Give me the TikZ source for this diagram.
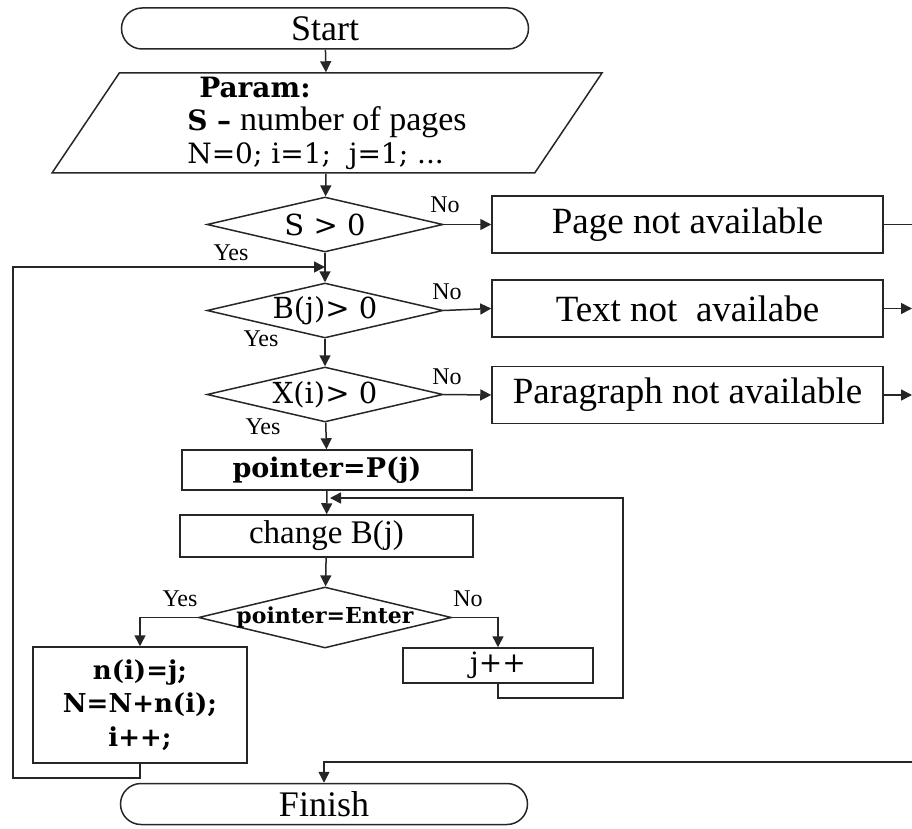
\documentclass[tikz,border=0pt]{standalone}
\usepackage{fontspec}
\setmainfont{Liberation Serif}
\newfontfamily\wideserif{DejaVu Serif}
\usetikzlibrary{positioning,shapes.geometric,shapes.misc,arrows.meta,calc}

\tikzset{
  flow/.style={draw=black!85, line width=1.5pt},
  arr/.style={flow, -{Triangle[length=11pt,width=11pt]}},
  line/.style={flow},
  term/.style={flow, rounded rectangle, minimum width=407pt, minimum height=41pt,
    inner sep=0pt, font=\fontsize{36}{38}\selectfont},
  io/.style={flow, trapezium, trapezium left angle=54, trapezium right angle=126,
    trapezium stretches body=true, minimum width=550pt, minimum height=100pt, inner sep=0pt},
  decision/.style={flow, diamond, inner sep=0pt, minimum width=236pt, minimum height=55pt},
  dtext/.style={font=\wideserif\fontsize{29}{32}\selectfont},
  block/.style={flow, rectangle, inner sep=0pt},
  msgbox/.style={block, minimum width=391pt, minimum height=57pt, font=\fontsize{37}{40}\selectfont},
  lbl/.style={font=\fontsize{24}{26}\selectfont, inner sep=0pt}
}

\begin{document}
\begin{tikzpicture}[x=1pt, y=-1pt]
  \useasboundingbox (0,0) rectangle (912,829);

  % main column
  \node[term] (start) at (325,28.5) {Start};
  \node[io, align=left, font=\wideserif\fontsize{28}{33}\selectfont] (param) at (327,123)
    {\hspace{12pt}\textbf{Param:}\\
     \textbf{S –} {\rmfamily\fontsize{34}{33}\selectfont number of pages}\\
     N=0; i=1;~ j=1; ...};
  \node[decision, label={[dtext]center:S > 0}] (spos) at (325,224.5) {};
  \node[decision, label={[dtext]center:B(j)> 0}] (bpos) at (325,310.5) {};
  \node[decision, label={[dtext]center:X(i)> 0}] (xpos) at (325,394.5) {};
  \node[block, minimum width=290pt, minimum height=40pt,
    font=\wideserif\bfseries\fontsize{27}{30}\selectfont] (ptr) at (327,470) {pointer=P(j)};
  \node[block, minimum width=293pt, minimum height=42pt,
    font=\fontsize{33}{36}\selectfont] (chg) at (326.5,536) {change B(j)};
  \node[decision, minimum width=253pt, minimum height=61pt,
    label={[font=\wideserif\bfseries\fontsize{22}{24}\selectfont]center:pointer=Enter}] (enter) at (325,617.5) {};
  \node[block, minimum width=214pt, minimum height=116pt, align=center,
    font=\wideserif\bfseries\fontsize{26}{33.5}\selectfont] (nset) at (140,705)
    {n(i)=j;\\ N=N+n(i);\\ i++;};
  \node[block, minimum width=190pt, minimum height=35pt,
    font=\wideserif\fontsize{28}{30}\selectfont] (jinc) at (498,665.5) {j++};
  \node[term] (finish) at (324,804) {Finish};

  % messages on the right
  \node[msgbox] (nopage) at (687.5,224.5) {Page not available};
  \node[msgbox] (notext) at (687.5,308.5) {Text not\ \ availabe};
  \node[msgbox] (nopar) at (687.5,395) {Paragraph not available};

  \coordinate (join1) at (325,267);
  \coordinate (join2) at (330,498);
  \coordinate (out1) at (912,224.5);
  \coordinate (out2) at (912,308.5);
  \coordinate (out3) at (912,395);
  \coordinate (endin) at (912,762);

  % connectors
  \draw[arr] (start) -- (param);
  \draw[arr] (param) -- (spos);
  \draw[arr] (spos) -- (bpos);
  \draw[arr] (bpos) -- (xpos);
  \draw[arr] (xpos) -- (ptr);
  \draw[arr] (ptr) -- (chg);
  \draw[arr] (chg) -- (enter);
  \draw[arr] (spos.east) -- (nopage.west);
  \draw[arr] (bpos.east) -- (notext.west);
  \draw[arr] (xpos.east) -- (nopar.west);
  \draw[line] (nopage.east) -- (out1);
  \draw[arr] (notext.east) -- (out2);
  \draw[arr] (nopar.east) -- (out3);
  \draw[arr] (enter.west) -| (nset.north);
  \draw[arr] (enter.east) -| (jinc.north);
  \draw[arr] (jinc.south) |- (623,698) |- (join2);
  \draw[arr] (nset.south) |- (13,778) |- (join1);
  \draw[arr] (endin) -| (finish.north);

  % branch labels
  \node[lbl] (no1) at (445,205) {No};
  \node[lbl] (no2) at (447,292) {No};
  \node[lbl] (no3) at (447,377) {No};
  \node[lbl] (no4) at (468,599) {No};
  \node[lbl] (yes1) at (231,253) {Yes};
  \node[lbl] (yes2) at (261,339) {Yes};
  \node[lbl] (yes3) at (263,427) {Yes};
  \node[lbl] (yes4) at (180,599) {Yes};
\end{tikzpicture}
\end{document}
